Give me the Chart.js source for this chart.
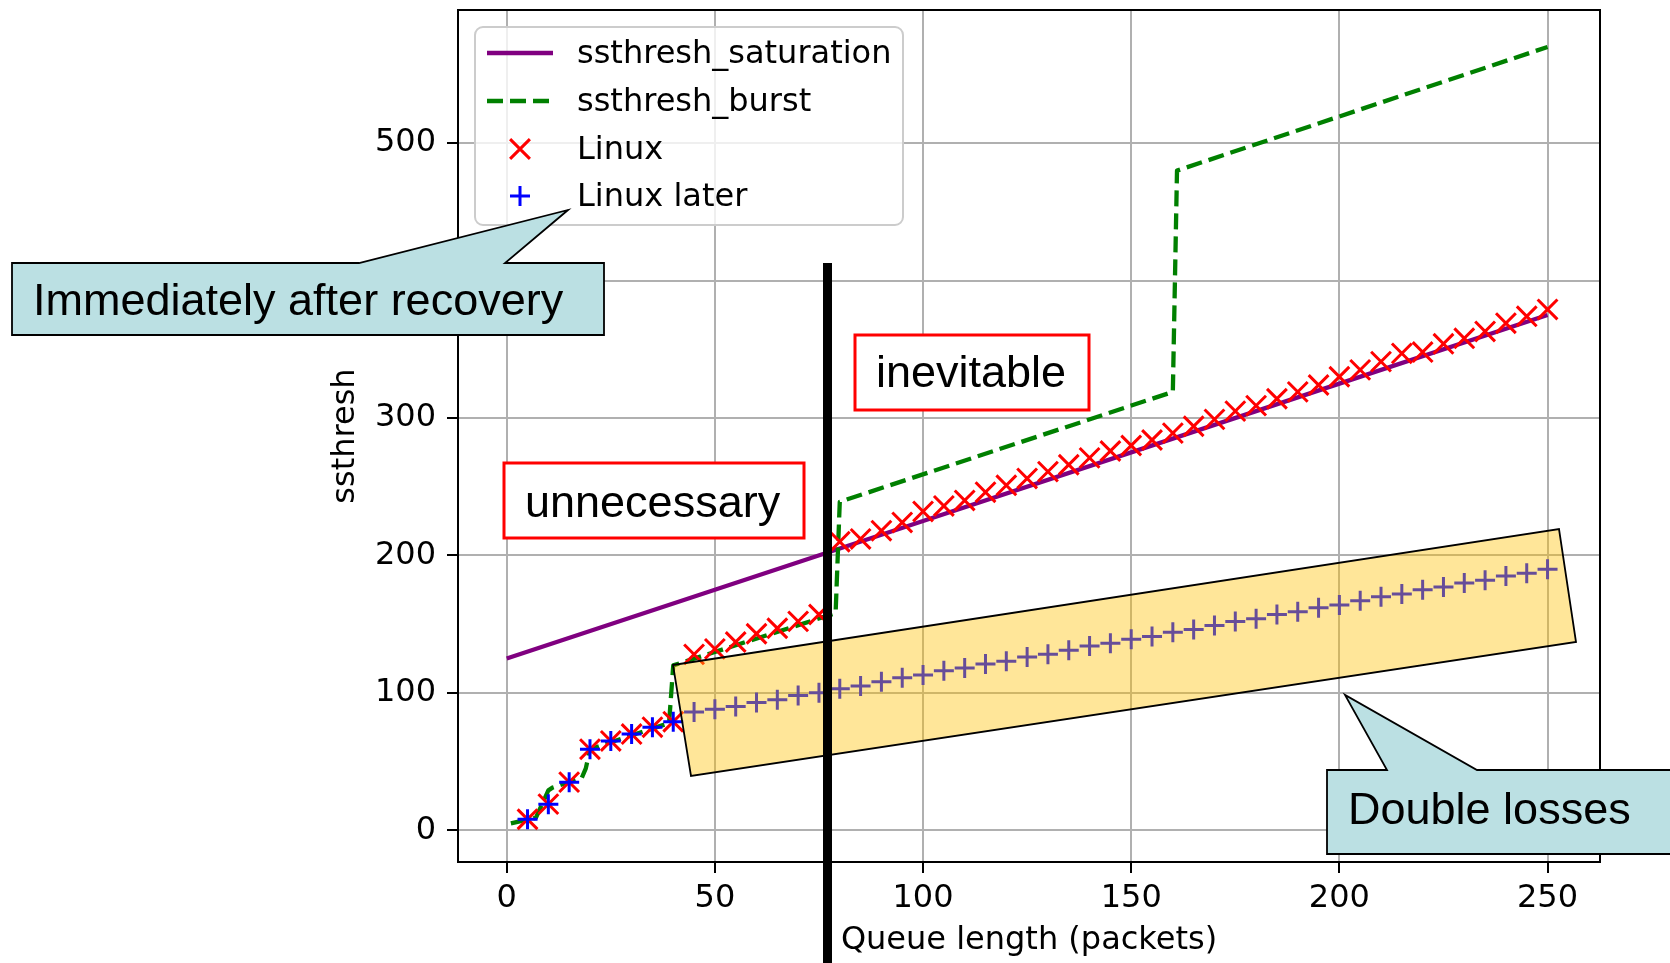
<!DOCTYPE html>
<html>
<head>
<meta charset="utf-8">
<title>ssthresh vs queue length</title>
<style>
  html, body { margin: 0; padding: 0; background: #fff; }
  #wrap { width: 1670px; height: 963px; }
</style>
</head>
<body>
<div id="wrap"><canvas id="chart" width="1670" height="963"></canvas></div>
<script src="https://cdn.jsdelivr.net/npm/chart.js"></script>
<script>
// queue length (packets) -> ssthresh
const saturationX = [0, 50, 100, 150, 200, 250];
const saturationY = [125, 175, 225, 275, 325, 375];

const burstX = [1, 7, 10, 11, 18, 19, 20, 39, 40, 79, 80, 160, 161, 250];
const burstY = [5, 9, 29, 31, 38, 45, 59, 78, 120, 158, 239, 319, 480, 570];

const linuxX = [5, 10, 15, 20, 25, 30, 35, 40, 45, 50, 55, 60, 65, 70, 75, 80, 85, 90, 95, 100,
                105, 110, 115, 120, 125, 130, 135, 140, 145, 150, 155, 160, 165, 170, 175, 180,
                185, 190, 195, 200, 205, 210, 215, 220, 225, 230, 235, 240, 245, 250];
const linuxY = [8, 19, 35, 59, 65, 70, 75, 79, 128, 132, 137, 143, 147, 152, 157, 210, 212, 218, 224, 232,
                236, 240, 246, 251, 256, 261, 266, 271, 276, 280, 284, 289, 294, 299, 305, 309,
                314, 319, 324, 330, 335, 341, 347, 348, 354, 358, 363, 369, 374, 379];
const linuxLaterY = [8, 19, 35, 59, 65, 70, 75, 79, 86, 88, 90, 93, 95, 98, 100, 103, 105, 108, 111, 113,
                     116, 118, 121, 123, 126, 128, 131, 134, 136, 139, 141, 144, 146, 149, 152, 154,
                     157, 159, 162, 164, 167, 170, 172, 175, 177, 180, 182, 185, 187, 190];

const xTicks = [0, 50, 100, 150, 200, 250];
const yTicks = [0, 100, 200, 300, 400, 500];

function points(xs, ys) {
    return xs.map((x, i) => ({ x: x, y: ys[i] }));
}

Chart.defaults.font.family = "'DejaVu Sans', sans-serif";
Chart.defaults.font.size = 32;
Chart.defaults.color = '#000';

const LW = 4.3;

// legend drawn inside the axes, like matplotlib's "best" location
const insideLegend = {
    id: 'insideLegend',
    afterDatasetsDraw(chart) {
        const ctx = chart.ctx;
        const a = chart.chartArea;
        // axes frame
        ctx.save();
        ctx.strokeStyle = '#000';
        ctx.lineWidth = 2;
        ctx.strokeRect(a.left, a.top, a.right - a.left, a.bottom - a.top);

        const box = { x: 475, y: 27, w: 428, h: 198 };
        ctx.beginPath();
        ctx.roundRect(box.x, box.y, box.w, box.h, 8);
        ctx.fillStyle = 'rgba(255,255,255,0.8)';
        ctx.fill();
        ctx.strokeStyle = '#cccccc';
        ctx.lineWidth = 2;
        ctx.stroke();

        const rows = [55, 103, 151, 198];
        chart.data.datasets.forEach((ds, i) => {
            const y = rows[i];
            ctx.strokeStyle = ds.borderColor;
            if (ds.showLine === false) {
                ctx.lineWidth = ds.pointBorderWidth;
                Chart.helpers.drawPoint(ctx, { pointStyle: ds.pointStyle, radius: ds.pointRadius, rotation: 0, borderWidth: ds.pointBorderWidth }, 520, y - 2);
            } else {
                ctx.lineWidth = ds.borderWidth;
                ctx.setLineDash(ds.borderDash || []);
                ctx.beginPath();
                ctx.moveTo(487, y - 2);
                ctx.lineTo(553, y - 2);
                ctx.stroke();
                ctx.setLineDash([]);
            }
            ctx.fillStyle = '#000';
            ctx.font = "32px 'DejaVu Sans'";
            ctx.textBaseline = 'middle';
            ctx.textAlign = 'left';
            ctx.fillText(ds.label, 577, y);
        });
        ctx.restore();
    }
};

// slide-style annotations on top of the figure
const callouts = {
    id: 'callouts',
    afterDraw(chart) {
        const ctx = chart.ctx;
        ctx.save();
        const poly = (pts, fill, stroke, lw) => {
            ctx.beginPath();
            pts.forEach((p, i) => i ? ctx.lineTo(p[0], p[1]) : ctx.moveTo(p[0], p[1]));
            ctx.closePath();
            ctx.fillStyle = fill;
            ctx.fill();
            ctx.strokeStyle = stroke;
            ctx.lineWidth = lw;
            ctx.stroke();
        };
        const label = (text, x, y) => {
            ctx.fillStyle = '#000';
            ctx.font = "45px 'Liberation Sans', Arial, sans-serif";
            ctx.textAlign = 'left';
            ctx.textBaseline = 'alphabetic';
            ctx.fillText(text, x, y);
        };

        // highlighted band around the later samples
        poly([[673, 665], [1559, 529], [1576, 642], [691, 776]], 'rgba(255,192,0,0.4)', '#000', 1.8);

        // separator
        ctx.fillStyle = '#000';
        ctx.fillRect(823, 263, 9, 700);

        // red boxed labels
        ctx.fillStyle = '#fff';
        ctx.fillRect(504, 463, 300, 75);
        ctx.strokeStyle = '#ff0000';
        ctx.lineWidth = 3;
        ctx.strokeRect(504, 463, 300, 75);
        label('unnecessary', 525, 517);

        ctx.fillStyle = '#fff';
        ctx.fillRect(855, 335, 234, 75);
        ctx.strokeStyle = '#ff0000';
        ctx.lineWidth = 3;
        ctx.strokeRect(855, 335, 234, 75);
        label('inevitable', 876, 387);

        // speech-bubble callouts
        poly([[12, 263], [359, 263], [568, 210], [505, 263], [604, 263], [604, 335], [12, 335]], '#bbe0e3', '#000', 1.8);
        label('Immediately after recovery', 33, 315);

        poly([[1327, 770], [1387, 770], [1345, 695], [1477, 770], [1690, 770], [1690, 854], [1327, 854]], '#bbe0e3', '#000', 1.8);
        label('Double losses', 1348, 824);
        ctx.restore();
    }
};

const axisCommon = {
    type: 'linear',
    border: { display: false },
    grid: { color: '#b0b0b0', lineWidth: 2, tickColor: '#000', tickLength: 11, tickWidth: 2 },
};

new Chart(document.getElementById('chart'), {
    type: 'scatter',
    data: {
        datasets: [
            {
                label: 'ssthresh_saturation',
                data: points(saturationX, saturationY),
                showLine: true, borderColor: '#800080', borderWidth: LW,
                pointRadius: 0, order: 4
            },
            {
                label: 'ssthresh_burst',
                data: points(burstX, burstY),
                showLine: true, borderColor: '#008000', borderWidth: LW,
                borderDash: [16, 7], borderJoinStyle: 'round',
                pointRadius: 0, order: 3
            },
            {
                label: 'Linux',
                data: points(linuxX, linuxY),
                showLine: false, pointStyle: 'crossRot', pointRadius: 14,
                pointBorderWidth: 3, borderColor: '#ff0000', backgroundColor: '#ff0000', order: 2
            },
            {
                label: 'Linux later',
                data: points(linuxX, linuxLaterY),
                showLine: false, pointStyle: 'cross', pointRadius: 10,
                pointBorderWidth: 3, borderColor: '#0000ff', backgroundColor: '#0000ff', order: 1
            }
        ]
    },
    options: {
        responsive: false,
        animation: false,
        events: [],
        layout: { autoPadding: false, padding: { left: 0, top: 10, right: 70, bottom: 0 } },
        plugins: { legend: { display: false }, tooltip: { enabled: false } },
        scales: {
            x: Object.assign({}, axisCommon, {
                min: -11.7, max: 262.6,
                afterFit: s => { s.height = 101; s.paddingLeft = 0; s.paddingRight = 0; },
                afterBuildTicks: s => { s.ticks = xTicks.map(v => ({ value: v })); },
                ticks: { padding: 6, maxRotation: 0, color: '#000' },
                title: { display: true, text: 'Queue length (packets)', color: '#000', padding: { top: 0, bottom: 3 } }
            }),
            y: Object.assign({}, axisCommon, {
                min: -23.1, max: 596.9,
                afterFit: s => { s.width = 458; s.paddingTop = 0; s.paddingBottom = 0; },
                afterBuildTicks: s => { s.ticks = yTicks.map(v => ({ value: v })); },
                ticks: { padding: 11, color: '#000' },
                title: { display: true, text: 'ssthresh', color: '#000', padding: { top: 326, bottom: 0 } }
            })
        }
    },
    plugins: [insideLegend, callouts]
});
</script>
</body>
</html>
